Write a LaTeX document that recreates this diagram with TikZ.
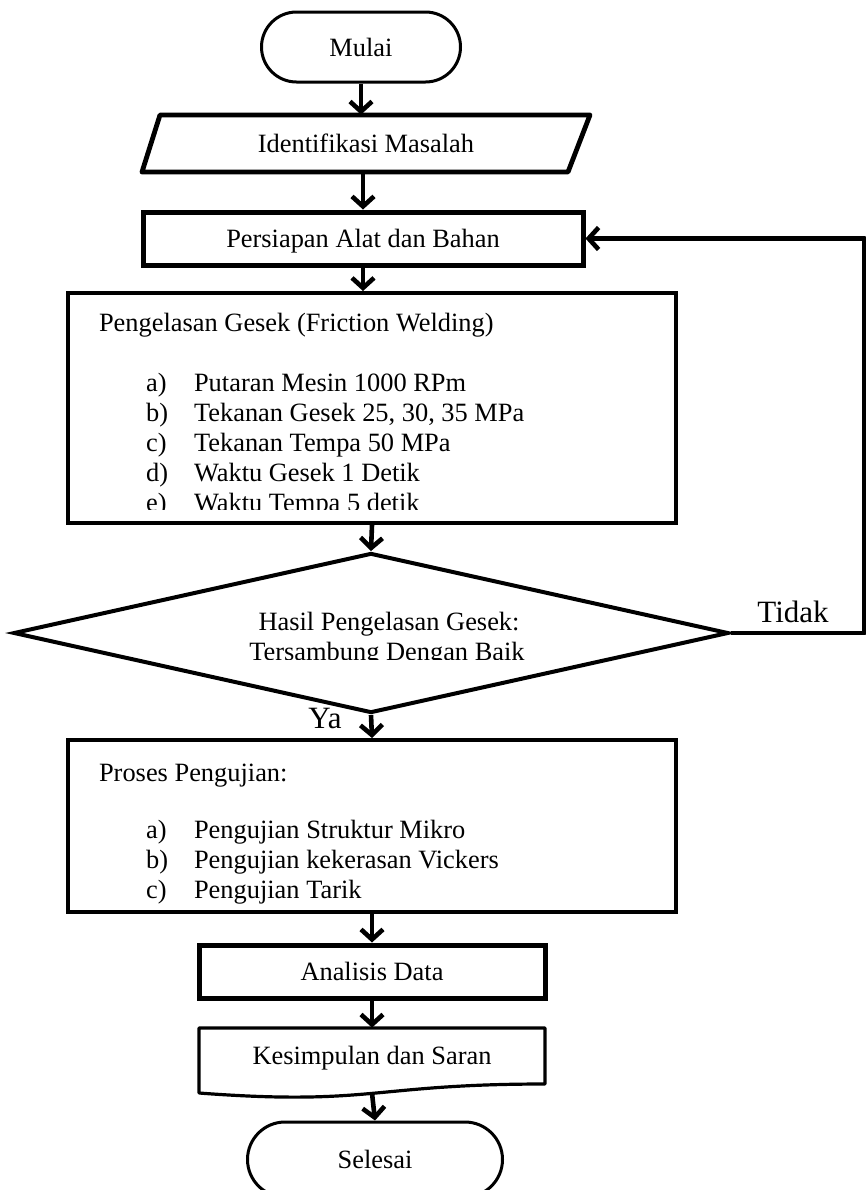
\documentclass[tikz,border=0pt]{standalone}
\usepackage{fontspec}
\setmainfont{Liberation Serif}
\usetikzlibrary{arrows.meta,shapes.geometric,shapes.misc}
\tikzset{
  txt/.style={font=\fontsize{13.2pt}{16pt}\selectfont},
  lbl/.style={font=\fontsize{15.5pt}{18pt}\selectfont},
  term/.style={txt,draw,rounded rectangle,line width=1.5pt,minimum height=35pt,inner sep=0pt},
  prc/.style={txt,draw,rectangle,line width=2.3pt,inner sep=0pt},
  dec/.style={draw,diamond,line width=2pt,inner sep=0pt},
  flow/.style={line width=2.3pt,line join=round,-{Straight Barb[length=5pt,width=11pt]}}
}

\begin{document}
\begin{tikzpicture}[x=0.5pt,y=-0.5pt]
\useasboundingbox (0,0) rectangle (866,1190);
% terminators
\node[term,minimum width=99.5pt] (mulai) at (361,47) {Mulai};
\node[term,minimum width=127.5pt,minimum height=37.5pt] (selesai) at (375,1159.5) {Selesai};
% input
\node[txt,minimum width=213pt,minimum height=28.5pt,inner sep=0pt,text height=12pt,text depth=2.9pt] (ident) at (366,143.5) {Identifikasi Masalah};
\draw[line width=2.4pt,line join=round] (160,115) -- (590,115) -- (568,172) -- (142,172) -- cycle;
\node[prc,line width=2.5pt,minimum width=220pt,minimum height=26.5pt,text height=12pt,text depth=2.9pt] (persiapan) at (363,238.5) {Persiapan Alat dan Bahan};
% welding box
\node[prc,line width=2pt,minimum width=304pt,minimum height=115pt] (gesek) at (372,408) {};
\node[txt,anchor=base west] (gesekjudul) at (92,331) {Pengelasan Gesek (Friction Welding)};
\begin{scope}
\clip (70,295) rectangle (674,509);
\node[txt,anchor=base west] (ga) at (139,391) {a)};
\node[txt,anchor=base west] (gat) at (187,391) {Putaran Mesin 1000 RPm};
\node[txt,anchor=base west] (gb) at (139,421) {b)};
\node[txt,anchor=base west] (gbt) at (187,421) {Tekanan Gesek 25, 30, 35 MPa};
\node[txt,anchor=base west] (gc) at (139,451) {c)};
\node[txt,anchor=base west] (gct) at (187,451) {Tekanan Tempa 50 MPa};
\node[txt,anchor=base west] (gd) at (139,481) {d)};
\node[txt,anchor=base west] (gdt) at (187,481) {Waktu Gesek 1 Detik};
\node[txt,anchor=base west] (ge) at (139,511) {e)};
\node[txt,anchor=base west] (get) at (187,511) {Waktu Tempa 5 detik};
\end{scope}
% decision
\node[dec,minimum width=357.5pt,minimum height=80pt] (hasil) at (371,633) {};
\begin{scope}
\clip (0,540) rectangle (866,659);
\node[txt,anchor=base] (hasila) at (389,630) {Hasil Pengelasan Gesek:};
\node[txt,anchor=base] (hasilb) at (387,660) {Tersambung Dengan Baik};
\end{scope}
\node[lbl,anchor=base] (tidak) at (793,622) {Tidak};
\node[lbl,anchor=base] (ya) at (325,728) {Ya};
% testing box
\node[prc,line width=2pt,minimum width=304pt,minimum height=86pt] (uji) at (372,826) {};
\node[txt,anchor=base west] (ujijudul) at (92,781) {Proses Pengujian:};
\node[txt,anchor=base west] (ua) at (139,838) {a)};
\node[txt,anchor=base west] (uat) at (187,838) {Pengujian Struktur Mikro};
\node[txt,anchor=base west] (ub) at (139,868) {b)};
\node[txt,anchor=base west] (ubt) at (187,868) {Pengujian kekerasan Vickers};
\node[txt,anchor=base west] (uc) at (139,898) {c)};
\node[txt,anchor=base west] (uct) at (187,898) {Pengujian Tarik};
\node[prc,line width=2.5pt,minimum width=173pt,minimum height=26.5pt] (analisis) at (372,971.5) {Analisis Data};
% document
\node[txt,minimum width=173pt,minimum height=30pt,inner sep=0pt] (kesimpulan) at (372,1058) {Kesimpulan dan Saran};
\draw[line width=1.6pt,line join=round] (199,1028) -- (545,1028) -- (545,1084) .. controls (372,1084) and (372,1106) .. (199,1093) -- cycle;
\coordinate (kbot) at (372,1093);
% arrows
\draw[flow] (mulai.south) -- (mulai.south |- ident.north);
\draw[flow] (ident.south -| persiapan.north) -- (persiapan.north);
\draw[flow] (persiapan.south) -- (persiapan.south |- gesek.north);
\draw[flow] (gesek.south) -- (hasil.north);
\draw[flow] (hasil.south) -- (uji.north);
\draw[flow] (uji.south) -- (analisis.north);
\draw[flow] (analisis.south) -- (kesimpulan.north);
\draw[flow] (kbot) -- (selesai.north);
\draw[flow] (hasil.east) -- ++(134,0) |- (persiapan.east);
\end{tikzpicture}
\end{document}
